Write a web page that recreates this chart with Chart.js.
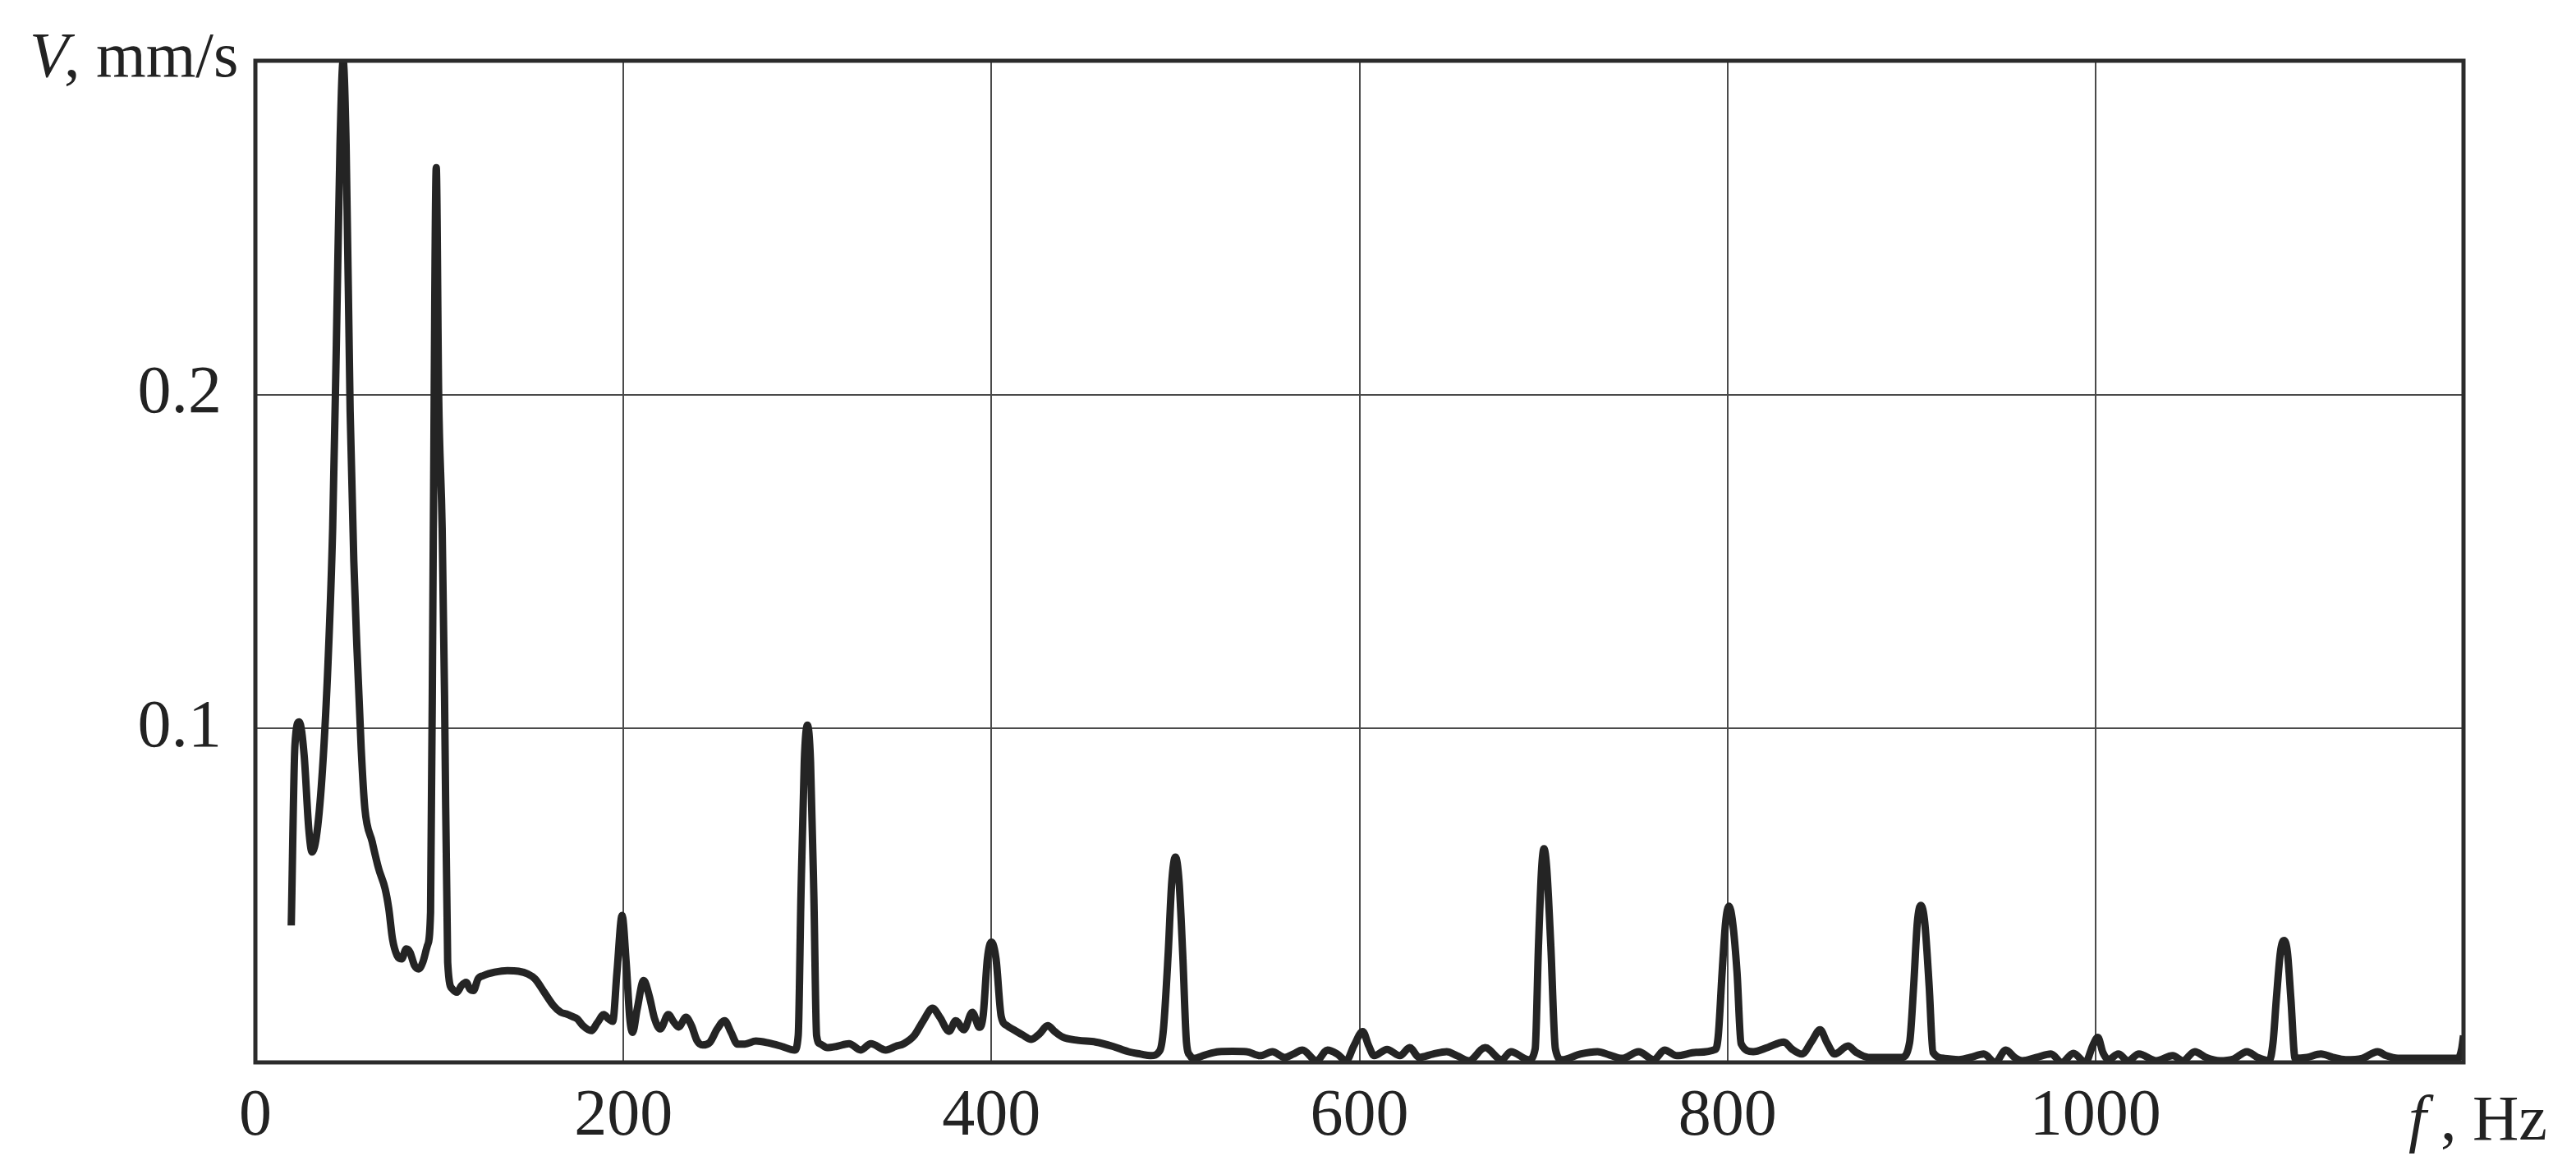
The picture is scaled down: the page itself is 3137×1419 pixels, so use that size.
<!DOCTYPE html>
<html>
<head>
<meta charset="utf-8">
<script src="https://cdn.jsdelivr.net/npm/chart.js@4"></script>
<style>
  html, body { margin: 0; padding: 0; background: #fff; }
  #wrap { width: 3137px; height: 1419px; position: relative; }
</style>
</head>
<body>
<div id="wrap"><canvas id="c"></canvas></div>
<script>
// Frequency, Hz
const freq = [
  19.5, 21.5, 23.8, 26.5, 29, 30.8, 33.5, 36.5, 39.5, 42, 44, 46, 47.7, 49.3, 51.5, 53.5, 55.2, 57.5, 59.5, 63.5,
  67, 70.5, 72.5, 74.5, 77, 79.5, 82, 84, 86.5, 88.8, 91, 93.5, 95.2, 96.6, 98.3, 99.6, 101.5, 102.8, 104.5, 107,
  109.5, 112, 114.5, 116.5, 118.5, 121, 124, 130, 137, 143, 148, 152, 157, 162, 166, 169, 172, 175, 178, 182.5,
  186, 189.3, 192, 194.2, 196.5, 199.3, 201.5, 203.5, 205, 207.5, 211, 214, 217, 220, 224.4, 227.5, 230, 234, 237, 240,
  243, 247, 251, 255, 258.5, 262, 266, 272, 279, 286, 293, 295, 296.5, 298.3, 300, 301.7, 303.5, 305, 307, 310.7,
  316, 322.6, 329, 334.5, 342.6, 348, 352.4, 358, 363, 368, 372, 377, 380.6, 385, 389.6, 393.5, 395.5, 397.8, 400, 402.5,
  405.3, 408.5, 412, 417, 421.7, 426, 430.6, 434.5, 438.7, 447, 456.6, 466, 474.5, 481, 486.5, 491.5, 493.5, 496, 498, 500,
  502, 504, 506, 508, 510, 516, 523.6, 531, 538.6, 546, 552.7, 559.4, 564, 569, 576.7, 582.6, 588, 592.8, 597, 601.8,
  605, 608, 615, 622, 627.3, 632.5, 640, 647.4, 653, 659.4, 668.3, 677.3, 682.3, 692, 695.5, 697.3, 699, 700.3, 701.8, 704,
  706.5, 710, 720, 729.4, 736, 742.8, 751.7, 760, 765.8, 772.5, 783, 793.5, 795, 797.1, 799, 800.8, 802.8, 805.2, 807.4, 814,
  822, 830.7, 835, 840.4, 846, 850.3, 854, 858.3, 865.5, 870, 876.7, 886, 894.6, 899, 901.2, 903.2, 905.1, 907.2, 909.6, 911.7,
  918, 925.8, 932, 939.3, 945.5, 951.3, 956, 960.2, 968, 975.8, 981.7, 988, 994.6, 998.5, 1001.3, 1004, 1007, 1012.4, 1017.7, 1023.6,
  1033, 1042, 1047.4, 1054, 1060, 1067.5, 1075, 1082.3, 1088, 1094.4, 1096.5, 1098.3, 1100.5, 1102.4, 1104.3, 1106.2, 1108.5, 1115, 1122.5, 1129,
  1136, 1145, 1153.3, 1158, 1164.4, 1175, 1186.7, 1197, 1199, 1200
];
// Vibration velocity, mm/s
const vel = [
  0.041, 0.095, 0.102, 0.092, 0.070, 0.063, 0.069, 0.088, 0.120, 0.160, 0.215, 0.275, 0.300, 0.275, 0.195, 0.150, 0.124, 0.094, 0.076, 0.066,
  0.058, 0.052, 0.046, 0.037, 0.032, 0.031, 0.034, 0.033, 0.029, 0.028, 0.030, 0.035, 0.045, 0.150, 0.268, 0.200, 0.160, 0.110, 0.030, 0.022,
  0.021, 0.023, 0.024, 0.022, 0.0215, 0.025, 0.026, 0.027, 0.0275, 0.0273, 0.0265, 0.025, 0.021, 0.017, 0.015, 0.0145, 0.0138, 0.013, 0.011, 0.0095,
  0.012, 0.0143, 0.013, 0.0123, 0.027, 0.044, 0.030, 0.013, 0.009, 0.016, 0.0245, 0.020, 0.013, 0.010, 0.0143, 0.012, 0.0106, 0.0135, 0.011, 0.0065,
  0.0052, 0.006, 0.010, 0.0125, 0.009, 0.0055, 0.0055, 0.0064, 0.0058, 0.0048, 0.0037, 0.008, 0.050, 0.090, 0.101, 0.090, 0.050, 0.008, 0.0055, 0.0044,
  0.0048, 0.0056, 0.0037, 0.0056, 0.0037, 0.0048, 0.0056, 0.008, 0.0125, 0.0162, 0.0135, 0.0093, 0.0125, 0.0098, 0.015, 0.0105, 0.014, 0.031, 0.036, 0.031,
  0.0138, 0.011, 0.0098, 0.0082, 0.0069, 0.0085, 0.011, 0.0092, 0.0076, 0.0066, 0.0061, 0.0048, 0.0032, 0.0025, 0.002, 0.0035, 0.010, 0.032, 0.054, 0.0615,
  0.054, 0.032, 0.006, 0.002, 0.0012, 0.0022, 0.0032, 0.0033, 0.0032, 0.002, 0.0032, 0.0015, 0.0025, 0.0037, 0.0005, 0.0037, 0.0025, 0.0005, 0.005, 0.0092,
  0.005, 0.002, 0.0039, 0.002, 0.0044, 0.0015, 0.0025, 0.0032, 0.002, 0.0005, 0.0044, 0.0008, 0.0032, 0.0008, 0.004, 0.035, 0.058, 0.064, 0.058, 0.035,
  0.004, 0.0008, 0.0025, 0.0032, 0.0022, 0.0012, 0.0032, 0.0008, 0.0037, 0.002, 0.003, 0.0039, 0.008, 0.027, 0.042, 0.0468, 0.042, 0.027, 0.0056, 0.0032,
  0.0045, 0.0061, 0.004, 0.0025, 0.0065, 0.0098, 0.006, 0.0025, 0.0049, 0.003, 0.0015, 0.0015, 0.0015, 0.006, 0.023, 0.042, 0.047, 0.042, 0.023, 0.003,
  0.0012, 0.0008, 0.0015, 0.0025, 0.0, 0.0037, 0.0015, 0.0005, 0.0015, 0.0025, 0.0, 0.0027, 0.0, 0.005, 0.0075, 0.003, 0.0008, 0.0025, 0.0005, 0.0025,
  0.0005, 0.002, 0.0005, 0.0032, 0.0015, 0.0005, 0.001, 0.0032, 0.0015, 0.0005, 0.006, 0.019, 0.033, 0.0365, 0.033, 0.019, 0.0012, 0.0015, 0.0025, 0.0015,
  0.0008, 0.0012, 0.0032, 0.002, 0.0012, 0.0012, 0.0012, 0.0012, 0.004, 0.008
];
const xTickLabels = ['0', '200', '400', '600', '800', '1000'];
const yTickLabels = ['0.1', '0.2'];
const xTitle = ['f', ', Hz'];
const yTitle = ['V', ', mm/s'];

const points = freq.map((f, i) => ({ x: f, y: vel[i] }));
const SERIF = '"Liberation Serif", "Times New Roman", serif';
const INK = '#222';

const titlesPlugin = {
  id: 'titles',
  afterDraw(chart) {
    const { ctx, chartArea } = chart;
    ctx.save();
    ctx.strokeStyle = '#2b2b2b';
    ctx.lineWidth = 5;
    ctx.strokeRect(chartArea.left, chartArea.top, chartArea.right - chartArea.left, chartArea.bottom - chartArea.top);
    ctx.fillStyle = INK;
    ctx.textBaseline = 'alphabetic';
    ctx.textAlign = 'left';
    ctx.font = 'italic 78px ' + SERIF;
    ctx.fillText(yTitle[0], 36, 93);
    ctx.font = '78px ' + SERIF;
    ctx.fillText(yTitle[1], 78, 93);
    ctx.font = 'italic 78px ' + SERIF;
    ctx.fillText(xTitle[0], 2933, 1388);
    ctx.font = '78px ' + SERIF;
    ctx.fillText(xTitle[1], 2972, 1388);
    ctx.restore();
  }
};

new Chart(document.getElementById('c'), {
  type: 'line',
  data: {
    datasets: [{
      data: points,
      borderColor: '#242424',
      borderWidth: 9,
      pointRadius: 0,
      fill: false,
      cubicInterpolationMode: 'monotone',
      borderJoinStyle: 'round',
      borderCapStyle: 'butt'
    }]
  },
  options: {
    responsive: true,
    maintainAspectRatio: false,
    animation: false,
    devicePixelRatio: 1,
    layout: { padding: { left: 0, top: 74, right: 137, bottom: 0 } },
    plugins: { legend: { display: false }, tooltip: { enabled: false } },
    scales: {
      x: {
        type: 'linear',
        min: 0, max: 1200,
        ticks: {
          stepSize: 200,
          padding: 19,
          color: INK,
          font: { family: SERIF, size: 80 },
          maxRotation: 0,
          autoSkip: false,
          callback: (v) => { const i = Math.round(v / 200); return (Math.abs(v - i * 200) < 1e-6 && i < xTickLabels.length) ? xTickLabels[i] : ''; }
        },
        grid: { color: '#4a4a4a', lineWidth: 2, drawTicks: false },
        border: { display: false },
        afterFit: (s) => { s.height = 125; }
      },
      y: {
        min: 0, max: 0.3,
        ticks: {
          stepSize: 0.1,
          padding: 41,
          color: INK,
          font: { family: SERIF, size: 82, lineHeight: 0.4 },
          callback: (v) => { const i = Math.round(v * 10); return (Math.abs(v * 10 - i) < 1e-6 && i >= 1 && i <= yTickLabels.length) ? yTickLabels[i - 1] : ''; }
        },
        grid: { color: '#4a4a4a', lineWidth: 2, drawTicks: false },
        border: { display: false },
        afterFit: (s) => { s.width = 311; }
      }
    }
  },
  plugins: [titlesPlugin]
});
</script>
</body>
</html>
